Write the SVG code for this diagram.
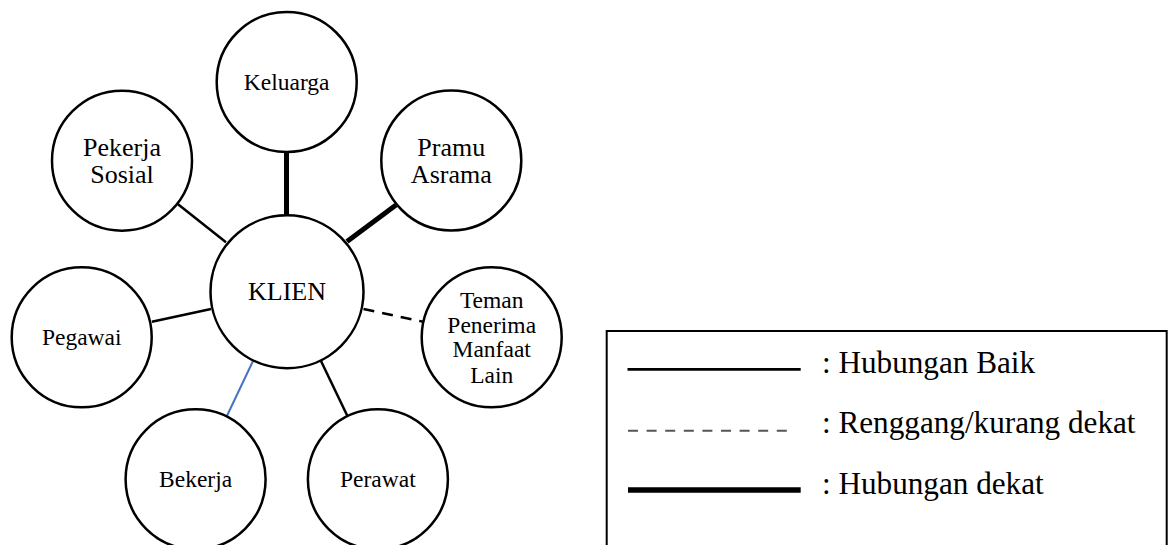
<svg xmlns="http://www.w3.org/2000/svg" width="1171" height="545" viewBox="0 0 1171 545">
<style>
.node{fill:#fff;stroke:#000;stroke-width:2.5}
.t{font-family:"Liberation Serif","Times New Roman",serif;fill:#000;text-anchor:middle}
.s{font-size:23.5px}
.b{font-size:26px}
.c{stroke:#000;stroke-width:2.5;fill:none}
.thick{stroke:#000;stroke-width:5;fill:none}
.leg{font-family:"Liberation Serif","Times New Roman",serif;font-size:31.2px;fill:#000}
</style>
<rect width="1171" height="545" fill="#fff"/>
<g id="connectors">
<line class="thick" x1="286.5" y1="152" x2="286.5" y2="215"/>
<line class="thick" x1="396" y1="205" x2="347" y2="241.5"/>
<line class="c" x1="177.7" y1="204" x2="226" y2="242.3"/>
<line class="c" x1="151.9" y1="321.7" x2="211" y2="309"/>
<line class="c" x1="363.5" y1="309" x2="423" y2="321.7" stroke-dasharray="11 8"/>
<line class="c" x1="253" y1="361" x2="227" y2="415.7" style="stroke:#4472C4;stroke-width:2"/>
<line class="c" x1="321" y1="361" x2="347.3" y2="415.7"/>
</g>
<g id="keluarga"><circle class="node" cx="286.7" cy="82" r="70"/><text class="t s" x="286.7" y="89.5">Keluarga</text></g>
<g id="pekerja-sosial"><circle class="node" cx="122" cy="160.7" r="70"/><text class="t b" x="122" y="155.7">Pekerja</text><text class="t b" x="122" y="182.7">Sosial</text></g>
<g id="pramu-asrama"><circle class="node" cx="451.3" cy="160.5" r="70"/><text class="t b" x="451.3" y="155.7">Pramu</text><text class="t b" x="451.3" y="182.7">Asrama</text></g>
<g id="klien"><circle class="node" cx="287" cy="291.7" r="76.5"/><text class="t b" x="287" y="300">KLIEN</text></g>
<g id="pegawai"><circle class="node" cx="81.7" cy="337.3" r="70"/><text class="t s" x="81.7" y="345">Pegawai</text></g>
<g id="teman"><circle class="node" cx="491.7" cy="337.3" r="70"/><text class="t s" x="491.7" y="308.3">Teman</text><text class="t s" x="491.7" y="332.8">Penerima</text><text class="t s" x="491.7" y="357.3">Manfaat</text><text class="t s" x="491.7" y="382.5">Lain</text></g>
<g id="bekerja"><circle class="node" cx="195.6" cy="479.3" r="70"/><text class="t s" x="195.6" y="486.7">Bekerja</text></g>
<g id="perawat"><circle class="node" cx="377.9" cy="479.3" r="70"/><text class="t s" x="377.9" y="486.7">Perawat</text></g>
<g id="legend">
<rect x="606.7" y="331" width="560" height="230" fill="none" stroke="#000" stroke-width="2"/>
<line x1="627.5" y1="369.3" x2="800.7" y2="369.3" stroke="#000" stroke-width="2.7"/>
<text class="leg" x="822" y="372.7">: Hubungan Baik</text>
<line x1="628" y1="430.7" x2="787" y2="430.7" stroke="#555" stroke-width="2" stroke-dasharray="10 8.6"/>
<text class="leg" x="822" y="432.7">: Renggang/kurang dekat</text>
<line x1="628" y1="490" x2="800.7" y2="490" stroke="#000" stroke-width="5.3"/>
<text class="leg" x="822" y="494">: Hubungan dekat</text>
</g>
</svg>
